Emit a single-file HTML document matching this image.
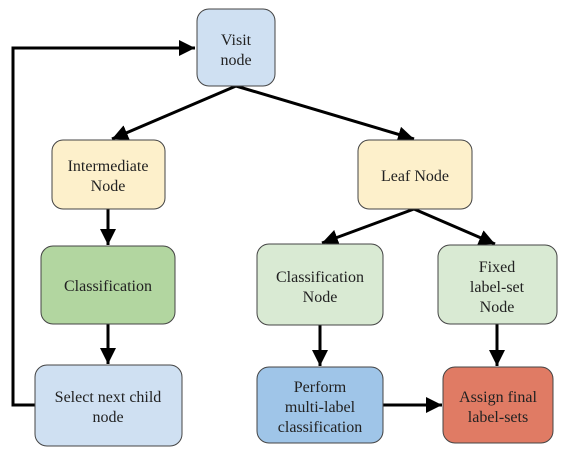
<!DOCTYPE html><html><head><style>body{margin:0;background:#fff}</style></head><body>
<svg width="568" height="454" xmlns="http://www.w3.org/2000/svg">
<defs>
<marker id="b" viewBox="0 0 10 10" markerWidth="16" markerHeight="16" refX="10" refY="5" orient="auto" markerUnits="userSpaceOnUse"><path d="M0,0 L10,5 L0,10 z" fill="#000"/></marker></defs>
<g stroke="#000" stroke-width="3" fill="none">
<polyline points="35,405 13,405 13,48 195,48" marker-end="url(#b)"/>
<line x1="236" y1="86" x2="112" y2="139" marker-end="url(#b)"/>
<line x1="236" y1="86" x2="414" y2="139" marker-end="url(#b)"/>
<line x1="108" y1="209" x2="108" y2="245" marker-end="url(#b)"/>
<line x1="108" y1="324" x2="108" y2="364" marker-end="url(#b)"/>
<line x1="414" y1="209" x2="322" y2="243" marker-end="url(#b)"/>
<line x1="414" y1="209" x2="495" y2="244" marker-end="url(#b)"/>
<line x1="320" y1="325" x2="320" y2="366" marker-end="url(#b)"/>
<line x1="497" y1="324" x2="497" y2="366" marker-end="url(#b)"/>
<line x1="383" y1="405" x2="442" y2="405" marker-end="url(#b)"/>
</g>
<g stroke="#444" stroke-width="1">
<rect x="197" y="9" width="78" height="77" rx="12" fill="#cfe0f2"/>
<rect x="52" y="140" width="113" height="69" rx="11" fill="#fdf0cb"/>
<rect x="358" y="140" width="114" height="69" rx="11" fill="#fdf0cb"/>
<rect x="41" y="246" width="134" height="78" rx="12" fill="#b2d6a0"/>
<rect x="257" y="244" width="126" height="81" rx="12" fill="#d9ead3"/>
<rect x="438" y="245" width="119" height="79" rx="12" fill="#d9ead3"/>
<rect x="35" y="365" width="147" height="81" rx="12" fill="#cfe0f2"/>
<rect x="257" y="367" width="126" height="76" rx="12" fill="#9fc5e8"/>
<rect x="443" y="367" width="110" height="76" rx="12" fill="#e07b64"/>
</g>
<g text-anchor="middle" style="font-family:'Liberation Serif','Times New Roman','DejaVu Serif',serif;font-size:16px" fill="#222">
<text x="236" y="45">Visit</text><text x="236" y="65">node</text>
<text x="108" y="171">Intermediate</text><text x="108" y="191">Node</text>
<text x="415" y="181">Leaf Node</text>
<text x="108" y="291">Classification</text>
<text x="320" y="282">Classification</text><text x="320" y="302">Node</text>
<text x="497" y="272">Fixed</text><text x="497" y="292">label-set</text><text x="497" y="312">Node</text>
<text x="108" y="402">Select next child</text><text x="108" y="422">node</text>
<text x="320" y="392">Perform</text><text x="320" y="412">multi-label</text><text x="320" y="432">classification</text>
<text x="498" y="402">Assign final</text><text x="498" y="422">label-sets</text>
</g></svg></body></html>
